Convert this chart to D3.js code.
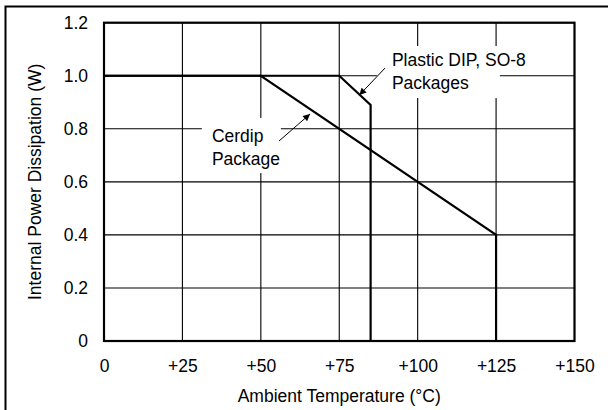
<!DOCTYPE html>
<html>
<head>
<meta charset="utf-8">
<script src="https://cdn.jsdelivr.net/npm/d3@7"></script>
<style>
  body { margin: 0; background: #fff; overflow: hidden; }
  svg { display: block; font-family: "Liberation Sans", Arial, sans-serif; }
</style>
</head>
<body>
<svg id="chart" width="608" height="410"></svg>
<script>
// axis ticks
var tempTicks = [0, 25, 50, 75, 100, 125, 150];
var powerTicks = [0, 0.2, 0.4, 0.6, 0.8, 1.0, 1.2];

// derating curves (temp in degC, power in W)
var cerdipTemp = [0, 50, 125, 125];
var cerdipPower = [1.0, 1.0, 0.4, 0];
var plasticTemp = [0, 75, 85, 85];
var plasticPower = [1.0, 1.0, 0.89, 0];

var svg = d3.select("#chart");
var margin = {left: 104, right: 33.5, top: 22.7, bottom: 69};
var width = 608 - margin.left - margin.right,
    height = 410 - margin.top - margin.bottom;
var fontSize = 17.5;

// outer frame: only the top and left edges fall inside the picture
svg.append("path")
  .attr("d", "M5.5,410V6.5H608")
  .attr("fill", "none").attr("stroke", "#000").attr("stroke-width", 2);

var g = svg.append("g").attr("transform", "translate(" + margin.left + "," + margin.top + ")");

var x = d3.scaleLinear().domain([0, 150]).range([0, width]);
var y = d3.scaleLinear().domain([0, 1.2]).range([height, 0]);

// grid
g.append("g")
  .selectAll("line")
  .data(tempTicks)
  .enter().append("line")
    .attr("x1", function(d) { return x(d); })
    .attr("x2", function(d) { return x(d); })
    .attr("y1", 0).attr("y2", height)
    .attr("stroke", "#000").attr("stroke-width", 1.1);
g.append("g")
  .selectAll("line")
  .data(powerTicks)
  .enter().append("line")
    .attr("x1", 0).attr("x2", width)
    .attr("y1", function(d) { return y(d); })
    .attr("y2", function(d) { return y(d); })
    .attr("stroke", "#000").attr("stroke-width", 1.1);

// tick labels via axes
var xAxis = g.append("g")
  .attr("transform", "translate(0," + height + ")")
  .call(d3.axisBottom(x).tickValues(tempTicks).tickSize(0).tickPadding(19)
    .tickFormat(function(d) { return d === 0 ? "0" : "+" + d; }));
var yAxis = g.append("g")
  .call(d3.axisLeft(y).tickValues(powerTicks).tickSize(0).tickPadding(16)
    .tickFormat(function(d) { return d === 0 ? "0" : d3.format(".1f")(d); }));
[xAxis, yAxis].forEach(function(a) {
  a.select(".domain").remove();
  a.selectAll("text").attr("font-size", fontSize).attr("fill", "#000")
    .attr("font-family", "Liberation Sans, Arial, sans-serif");
});

// label boxes knock out the grid
function labelBox(t0, t1, p0, p1) {
  g.append("rect")
    .attr("x", x(t0)).attr("y", y(p0))
    .attr("width", x(t1) - x(t0)).attr("height", y(p1) - y(p0))
    .attr("fill", "#fff");
}
labelBox(31.2, 56.4, 0.841, 0.633);
labelBox(87.0, 126.2, 1.112, 0.916);

// curves
var line = d3.line()
  .x(function(d) { return x(d[0]); })
  .y(function(d) { return y(d[1]); });
g.append("path")
  .datum(d3.zip(cerdipTemp, cerdipPower))
  .attr("d", line)
  .attr("fill", "none").attr("stroke", "#000").attr("stroke-width", 2.2);
g.append("path")
  .datum(d3.zip(plasticTemp, plasticPower))
  .attr("d", line)
  .attr("fill", "none").attr("stroke", "#000").attr("stroke-width", 2.2);

// plot frame
g.append("rect")
  .attr("width", width).attr("height", height)
  .attr("fill", "none").attr("stroke", "#000").attr("stroke-width", 2.2);

// annotations
svg.append("defs").append("marker")
  .attr("id", "head")
  .attr("viewBox", "0 0 10 10")
  .attr("refX", 10).attr("refY", 5)
  .attr("markerWidth", 9).attr("markerHeight", 7)
  .attr("markerUnits", "userSpaceOnUse")
  .attr("orient", "auto")
  .append("path").attr("d", "M0,0L10,5L0,10z").attr("fill", "#000");

function arrow(t0, p0, t1, p1) {
  g.append("line")
    .attr("x1", x(t0)).attr("y1", y(p0))
    .attr("x2", x(t1)).attr("y2", y(p1))
    .attr("stroke", "#000").attr("stroke-width", 1)
    .attr("marker-end", "url(#head)");
}
arrow(55.8, 0.754, 65.7, 0.856);
arrow(89.6, 1.029, 81.4, 0.927);

function label(t, p, lines) {
  var txt = g.append("text")
    .attr("x", x(t)).attr("y", y(p))
    .attr("font-size", fontSize).attr("fill", "#000");
  lines.forEach(function(s, i) {
    txt.append("tspan").attr("x", x(t)).attr("dy", i === 0 ? 0 : 23).text(s);
  });
}
label(34.4, 0.750, ["Cerdip", "Package"]);
label(91.8, 1.037, ["Plastic DIP, SO-8", "Packages"]);

// axis titles
svg.append("text")
  .attr("x", margin.left + width / 2).attr("y", 402)
  .attr("text-anchor", "middle").attr("font-size", fontSize)
  .text("Ambient Temperature (°C)");
svg.append("text")
  .attr("transform", "translate(41," + (margin.top + height / 2) + ") rotate(-90)")
  .attr("text-anchor", "middle").attr("font-size", fontSize)
  .text("Internal Power Dissipation (W)");
</script>
</body>
</html>
